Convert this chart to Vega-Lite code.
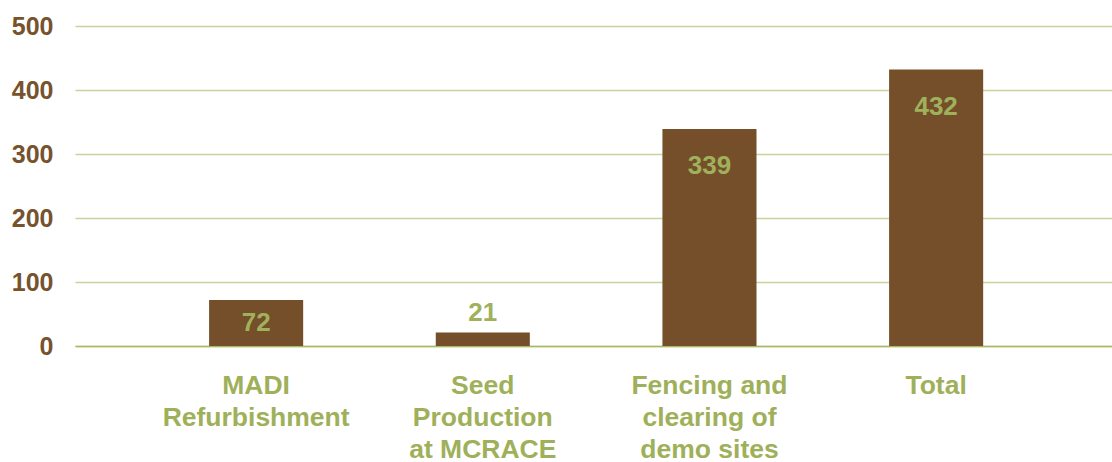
{
  "$schema": "https://vega.github.io/schema/vega-lite/v6.json",
  "width": 1037,
  "height": 320,
  "autosize": {"type": "none"},
  "padding": {"left": 75, "top": 26, "right": 0, "bottom": 116},
  "background": "white",
  "config": {
    "view": {"stroke": null},
    "font": "Liberation Sans"
  },
  "data": {
    "values": [
      {"category": "MADI Refurbishment", "value": 72},
      {"category": "Seed Production at MCRACE", "value": 21},
      {"category": "Fencing and clearing of demo sites", "value": 339},
      {"category": "Total", "value": 432}
    ]
  },
  "encoding": {
    "x": {
      "field": "category",
      "type": "nominal",
      "sort": null,
      "scale": {"paddingInner": 0.585, "paddingOuter": 0.58, "align": 0.51},
      "axis": {
        "title": null,
        "labelAngle": 0,
        "ticks": false,
        "domain": true,
        "domainColor": "#a9b865",
        "domainWidth": 1.5,
        "labelColor": "#9fb05a",
        "labelFont": "Liberation Sans",
        "labelFontWeight": "bold",
        "labelFontSize": 26.5,
        "labelLineHeight": 32,
        "labelPadding": 26,
        "labelLimit": 400,
        "labelOverlap": false,
        "labelBaseline": "top",
        "labelExpr": "datum.label == 'MADI Refurbishment' ? ['MADI', 'Refurbishment'] : datum.label == 'Seed Production at MCRACE' ? ['Seed', 'Production', 'at MCRACE'] : datum.label == 'Fencing and clearing of demo sites' ? ['Fencing and', 'clearing of', 'demo sites'] : datum.label"
      }
    },
    "y": {
      "field": "value",
      "type": "quantitative",
      "scale": {"domain": [0, 500]},
      "axis": {
        "title": null,
        "values": [0, 100, 200, 300, 400, 500],
        "domain": false,
        "ticks": false,
        "grid": true,
        "gridColor": "#c8d39a",
        "gridWidth": 1.5,
        "labelColor": "#76522d",
        "labelFont": "Liberation Sans",
        "labelFontWeight": "bold",
        "labelFontSize": 25,
        "labelPadding": 22
      }
    }
  },
  "layer": [
    {"mark": {"type": "bar", "color": "#744f29"}},
    {
      "transform": [{"filter": "datum.value > 100"}],
      "mark": {"type": "text", "color": "#a0b15c", "fontWeight": "bold", "fontSize": 26, "baseline": "middle", "dy": 37},
      "encoding": {"text": {"field": "value", "type": "quantitative"}}
    },
    {
      "transform": [{"filter": "datum.value > 50 && datum.value <= 100"}],
      "mark": {"type": "text", "color": "#a0b15c", "fontWeight": "bold", "fontSize": 26, "baseline": "middle", "dy": 23},
      "encoding": {"text": {"field": "value", "type": "quantitative"}}
    },
    {
      "transform": [{"filter": "datum.value <= 50"}],
      "mark": {"type": "text", "color": "#a0b15c", "fontWeight": "bold", "fontSize": 26, "baseline": "middle", "dy": -20},
      "encoding": {"text": {"field": "value", "type": "quantitative"}}
    }
  ]
}
